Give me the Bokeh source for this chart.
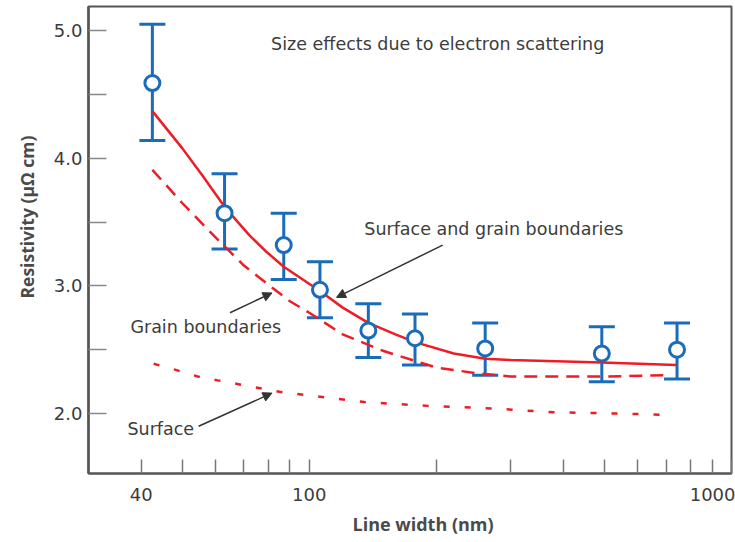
from bokeh.plotting import figure
from bokeh.models import (ColumnDataSource, Whisker, TeeHead, FixedTicker, Label,
                          Arrow, NormalHead, Range1d, Title)
from bokeh.embed import file_html
from bokeh.resources import INLINE

# Measured resistivity vs. line width (mean with error bars)
width_nm = [42.5, 63, 87, 106, 138, 178, 261, 493, 743]
rho = [4.59, 3.57, 3.32, 2.97, 2.65, 2.59, 2.51, 2.47, 2.50]
rho_hi = [5.05, 3.88, 3.57, 3.19, 2.86, 2.78, 2.71, 2.68, 2.71]
rho_lo = [4.14, 3.29, 3.05, 2.75, 2.44, 2.38, 2.30, 2.25, 2.27]

# Model: surface + grain boundary scattering
total_x = [42.5, 50, 56, 63, 72, 79, 87, 106, 120, 138, 160, 178, 220, 261, 300, 493, 740]
total_y = [4.37, 4.08, 3.86, 3.62, 3.40, 3.27, 3.15, 2.96, 2.83, 2.71, 2.62, 2.56, 2.47,
           2.43, 2.42, 2.40, 2.38]

# Model: grain boundaries only
grain_x = [42.5, 50, 60, 70, 80, 90, 100, 120, 150, 200, 250, 300, 500, 690]
grain_y = [3.91, 3.65, 3.38, 3.16, 3.01, 2.88, 2.79, 2.62, 2.49, 2.36, 2.315, 2.29, 2.29, 2.30]

# Model: surface only
surf_x = [42.8, 48.5, 54.4, 60.7, 68, 85, 135, 191, 271, 379, 541, 689]
surf_y = [2.39, 2.34, 2.29, 2.26, 2.23, 2.17, 2.09, 2.06, 2.04, 2.01, 2.00, 1.99]

x_ticks = [40, 50, 60, 70, 80, 90, 100, 200, 300, 400, 500, 600, 700, 800, 900, 1000]
x_tick_labels = {40: "40", 100: "100", 1000: "1000"}
y_ticks = [2.0, 2.5, 3.0, 3.5, 4.0, 4.5, 5.0]
y_tick_labels = {2.0: "2.0", 3.0: "3.0", 4.0: "4.0", 5.0: "5.0"}

RED = "#ee1c25"
BLUE = "#1a6cbb"
TXT = "#3c3c3c"
FONT = "DejaVu Sans"
TITLE_FONT = "Open Sans"

p = figure(width=735, height=542, x_axis_type="log",
           x_range=Range1d(30, 1000), y_range=Range1d(1.53, 5.19),
           output_backend="svg", toolbar_location=None,
           min_border_left=88, min_border_right=4, min_border_top=6, min_border_bottom=69)
p.grid.visible = False
p.background_fill_color = "white"
p.border_fill_color = "white"
p.outline_line_color = "#555555"
p.outline_line_width = 2

# axes
xa = p.xaxis[0]
xa.ticker = FixedTicker(ticks=x_ticks)
xa.major_label_overrides = {t: x_tick_labels.get(t, "") for t in x_ticks}
xa.minor_tick_line_color = None
xa.major_tick_in = 14
xa.major_tick_out = 0
xa.major_tick_line_color = "#777777"
xa.major_tick_line_width = 1.5
xa.axis_line_color = "#555555"
xa.axis_line_width = 2
xa.major_label_text_font = FONT
xa.major_label_text_font_size = "18px"
xa.major_label_text_color = TXT
xa.major_label_standoff = 14

ya = p.yaxis[0]
ya.ticker = FixedTicker(ticks=y_ticks)
ya.major_label_overrides = {t: y_tick_labels.get(t, "") for t in y_ticks}
ya.minor_tick_line_color = None
ya.major_tick_in = 18
ya.major_tick_out = 0
ya.major_tick_line_color = "#888888"
ya.major_tick_line_width = 1.5
ya.axis_line_color = "#555555"
ya.axis_line_width = 2.5
ya.major_label_text_font = FONT
ya.major_label_text_font_size = "18px"
ya.major_label_text_color = TXT
ya.major_label_standoff = 6

# axis titles, placed as side-panel titles so they can sit off-centre
p.add_layout(Title(text="Resistivity (\u00b5\u03a9 cm)", align="left", offset=175,
                   standoff=24, text_font=TITLE_FONT, text_font_style="bold",
                   text_font_size="17.5px", text_color="#4a4a4a"), "left")
p.add_layout(Title(text="Line width (nm)", align="left", offset=264,
                   standoff=12, text_font=TITLE_FONT, text_font_style="bold",
                   text_font_size="18px", text_color="#4a4a4a"), "below")

# model curves
p.line(total_x, total_y, line_color=RED, line_width=2.5)
p.line(grain_x, grain_y, line_color=RED, line_width=2.5, line_dash="13 8")
p.line(surf_x, surf_y, line_color=RED, line_width=2.5, line_dash="6 15")

# measured data with error bars
src = ColumnDataSource(dict(x=width_nm, y=rho, hi=rho_hi, lo=rho_lo))
p.add_layout(Whisker(source=src, base="x", upper="hi", lower="lo",
                     line_color=BLUE, line_width=3,
                     upper_head=TeeHead(size=26, line_color=BLUE, line_width=3),
                     lower_head=TeeHead(size=26, line_color=BLUE, line_width=3)))
p.scatter("x", "y", source=src, size=15, fill_color="white",
          line_color=BLUE, line_width=3)

# annotations
def note(x, y, text):
    p.add_layout(Label(x=x, y=y, text=text, text_align="left", text_baseline="middle",
                       text_font=FONT, text_font_size="17.5px", text_color=TXT))

note(81.2, 4.90, "Size effects due to electron scattering")
note(135, 3.45, "Surface and grain boundaries")
note(37.7, 2.68, "Grain boundaries")
note(37.1, 1.875, "Surface")

def pointer(x0, y0, x1, y1):
    p.add_layout(Arrow(x_start=x0, y_start=y0, x_end=x1, y_end=y1,
                       line_color="#333333", line_width=1.5,
                       end=NormalHead(size=9, fill_color="#333333", line_color="#333333")))

pointer(207, 3.32, 116, 2.91)
pointer(64.9, 2.79, 81.6, 2.945)
pointer(54.7, 1.90, 81.6, 2.16)

open("out.html", "w").write(file_html(p, INLINE))
